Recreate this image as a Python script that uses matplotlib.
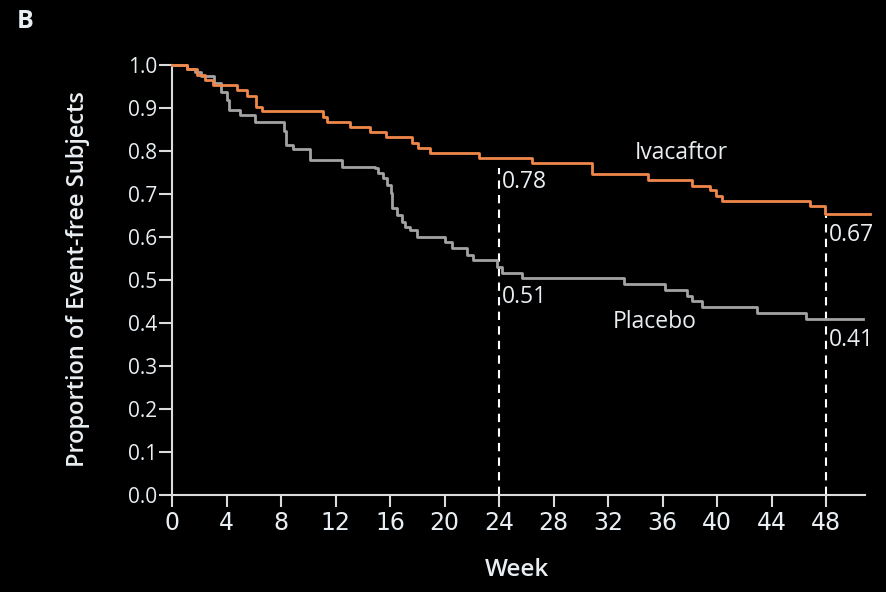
import matplotlib
matplotlib.use("Agg")
import matplotlib.pyplot as plt

# Ivacaftor step curve (week, proportion event-free)
iva_weeks = [0, 1.1, 1.8, 2.4, 3.0, 4.8, 5.5, 6.2, 6.6, 11.1, 11.4, 13.1, 14.5, 15.7,
             17.6, 18.05, 18.9, 22.5, 26.4, 30.8, 34.9, 38.2, 39.5, 39.9, 40.4, 46.8, 47.9, 51.2]
iva_prop = [1.0, 0.99, 0.977, 0.965, 0.953, 0.942, 0.929, 0.902, 0.893, 0.880, 0.868, 0.856, 0.844, 0.833,
            0.819, 0.807, 0.795, 0.784, 0.772, 0.747, 0.733, 0.719, 0.709, 0.696, 0.684, 0.672, 0.653, 0.653]

# Placebo step curve
pla_weeks = [0, 1.1, 1.7, 2.1, 3.1, 3.6, 4.0, 4.2, 5.0, 6.1, 8.2, 8.4, 8.9, 10.1, 12.5,
             14.9, 15.1, 15.5, 15.8, 16.1, 16.15, 16.5, 16.9, 17.1, 17.5, 18.0, 20.0, 20.55,
             21.65, 22.1, 23.85, 24.2, 25.7, 33.2, 36.2, 37.8, 38.2, 38.9, 42.9, 46.5, 50.7]
pla_prop = [1.0, 0.99, 0.984, 0.974, 0.958, 0.937, 0.919, 0.895, 0.884, 0.868, 0.847, 0.814, 0.805, 0.779, 0.763,
            0.760, 0.749, 0.737, 0.721, 0.702, 0.667, 0.651, 0.635, 0.623, 0.616, 0.600, 0.588, 0.574,
            0.558, 0.547, 0.530, 0.516, 0.505, 0.491, 0.477, 0.463, 0.451, 0.438, 0.423, 0.409, 0.409]

# Reference markers
mark_weeks = [24, 48]
mark_tops = [0.76, 0.65]
iva_labels = ["0.78", "0.67"]
pla_labels = ["0.51", "0.41"]
iva_label_y = [0.728, 0.604]
pla_label_y = [0.460, 0.360]

xticks = list(range(0, 49, 4))
yticks = [i / 10 for i in range(11)]

TXT = "#e8eef2"
AX = "#dcdcdc"
ORANGE = "#f0874a"
GREY = "#a3a3a3"

fig = plt.figure(figsize=(8.87, 5.92), dpi=100, facecolor="black")
ax = fig.add_axes([172 / 887, 1 - 495 / 592, (865 - 172) / 887, (495 - 65) / 592])
ax.set_facecolor("black")

ax.plot(pla_weeks, pla_prop, drawstyle="steps-post", color=GREY, lw=2.0, clip_on=False, zorder=3)
ax.plot(iva_weeks, iva_prop, drawstyle="steps-post", color=ORANGE, lw=2.0, clip_on=False, zorder=4)

for w, t in zip(mark_weeks, mark_tops):
    ax.plot([w, w], [0, t], color="white", lw=1.5, ls=(0, (4, 3)), zorder=2, clip_on=False)

for w, lab, y in zip(mark_weeks, iva_labels, iva_label_y):
    ax.text(w + 0.2, y, lab, color=TXT, fontsize=16.5, family="Open Sans", va="center", ha="left")
for w, lab, y in zip(mark_weeks, pla_labels, pla_label_y):
    ax.text(w + 0.2, y, lab, color=TXT, fontsize=16.5, family="Open Sans", va="center", ha="left")

ax.text(37.4, 0.795, "Ivacaftor", color=TXT, fontsize=16.5, family="Open Sans", va="center", ha="center")
ax.text(35.4, 0.402, "Placebo", color=TXT, fontsize=16.5, family="Open Sans", va="center", ha="center")

ax.set_xlim(0, 50.86)
ax.set_ylim(0, 1.0)
ax.set_xticks(xticks)
ax.set_xticklabels([str(x) for x in xticks], family="Liberation Sans Narrow", fontsize=17, color=TXT)
ax.set_yticks(yticks)
ax.set_yticklabels([f"{y:.1f}" for y in yticks], family="Open Sans", fontsize=15, color=TXT)

for s in ["top", "right"]:
    ax.spines[s].set_visible(False)
for s in ["left", "bottom"]:
    ax.spines[s].set_color(AX)
    ax.spines[s].set_linewidth(1.5)
ax.tick_params(axis="x", direction="out", length=8.5, width=1.5, color=AX, pad=3)
ax.tick_params(axis="y", direction="out", length=9.5, width=1.5, color=AX, pad=1)

fig.text(78 / 887, 1 - 279 / 592, "Proportion of Event-free Subjects", rotation=90,
         color=TXT, fontsize=17, family="Open Sans", weight="semibold", ha="center", va="center")
fig.text(517 / 887, 1 - 570 / 592, "Week", color=TXT, fontsize=17.5, family="Open Sans",
         weight="semibold", ha="center", va="center")
fig.text(25 / 887, 1 - 21 / 592, "B", color=TXT, fontsize=18, family="Open Sans",
         weight="bold", ha="center", va="center")

fig.savefig("out.png", dpi=100, facecolor="black")
